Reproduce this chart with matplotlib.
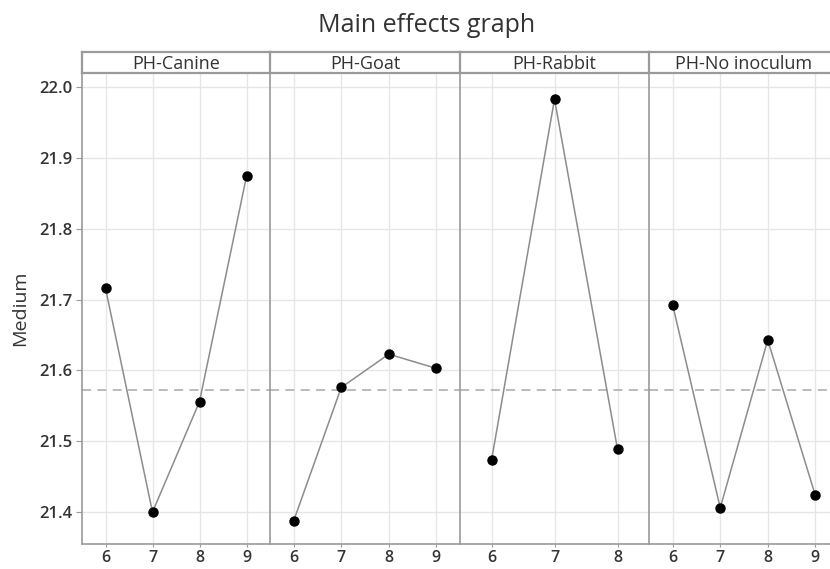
import matplotlib.pyplot as plt

plt.rcParams['font.family'] = ['Open Sans', 'DejaVu Sans']

# Data
panels = ["PH-Canine", "PH-Goat", "PH-Rabbit", "PH-No inoculum"]
levels_canine = [6, 7, 8, 9]
levels_goat = [6, 7, 8, 9]
levels_rabbit = [6, 7, 8]
levels_none = [6, 7, 8, 9]
medium_canine = [21.716, 21.400, 21.556, 21.874]
medium_goat = [21.388, 21.576, 21.623, 21.603]
medium_rabbit = [21.473, 21.983, 21.489]
medium_none = [21.692, 21.406, 21.643, 21.424]
overall_mean = 21.573
yticks = [21.4, 21.5, 21.6, 21.7, 21.8, 21.9, 22.0]

xs = [levels_canine, levels_goat, levels_rabbit, levels_none]
ys = [medium_canine, medium_goat, medium_rabbit, medium_none]

W, H = 830, 569
fig = plt.figure(figsize=(W / 100, H / 100), dpi=100)

# panel geometry in pixels (left edge, width)
lefts = [82, 270, 460, 649]
widths = [188, 190, 189, 190]
top_px, bottom_px, strip_top = 73, 544, 52

spine_col = '#9a9a9a'
text_col = '#333333'

for i in range(4):
    l, w = lefts[i], widths[i]
    ax = fig.add_axes([l / W, (H - bottom_px) / H, w / W, (bottom_px - top_px) / H])
    ax.plot(xs[i], ys[i], color='#8c8c8c', lw=1.1, zorder=3)
    ax.plot(xs[i], ys[i], 'o', color='black', ms=6.5, zorder=4)
    ax.axhline(overall_mean, color='#b5b5b5', lw=1.3, ls=(0, (5, 3.5)), zorder=2)
    ax.set_xlim(min(xs[i]) - 0.5, max(xs[i]) + 0.5)
    ax.set_ylim(21.355, 22.02)
    ax.set_xticks(xs[i])
    ax.set_yticks(yticks)
    ax.grid(True, color='#e6e6e6', lw=1.0, zorder=0)
    for s in ['top', 'right']:
        ax.spines[s].set_visible(False)
    ax.spines['left'].set_color(spine_col)
    ax.spines['bottom'].set_color(spine_col)
    ax.spines['left'].set_linewidth(1.2)
    ax.spines['bottom'].set_linewidth(1.2)
    ax.tick_params(axis='x', colors=spine_col, length=2, labelcolor=text_col, labelsize=11.5, pad=2)
    ax.tick_params(axis='y', colors=spine_col, length=4, labelcolor=text_col, labelsize=12, pad=3)
    for lab in ax.get_xticklabels() + ax.get_yticklabels():
        lab.set_fontweight('semibold')
    if i == 0:
        ax.set_ylabel("Medium", fontsize=14, color=text_col, labelpad=7)
        ax.set_yticklabels([f"{v:.1f}" for v in yticks])
    else:
        ax.tick_params(axis='y', length=0, labelleft=False)

    # header strip
    sax = fig.add_axes([l / W, (H - top_px) / H, w / W, (top_px - strip_top) / H])
    sax.set_xticks([])
    sax.set_yticks([])
    sax.spines['right'].set_visible(False)
    for s in ['top', 'bottom', 'left']:
        sax.spines[s].set_color(spine_col)
        sax.spines[s].set_linewidth(1.6)
    sax.text(0.5, 0.42, panels[i], ha='center', va='center', fontsize=13,
             color=text_col, transform=sax.transAxes)

fig.text(427 / W, 1 - 25 / H, "Main effects graph", ha='center', va='center',
         fontsize=18, color=text_col)

fig.savefig("out.png", dpi=100)
